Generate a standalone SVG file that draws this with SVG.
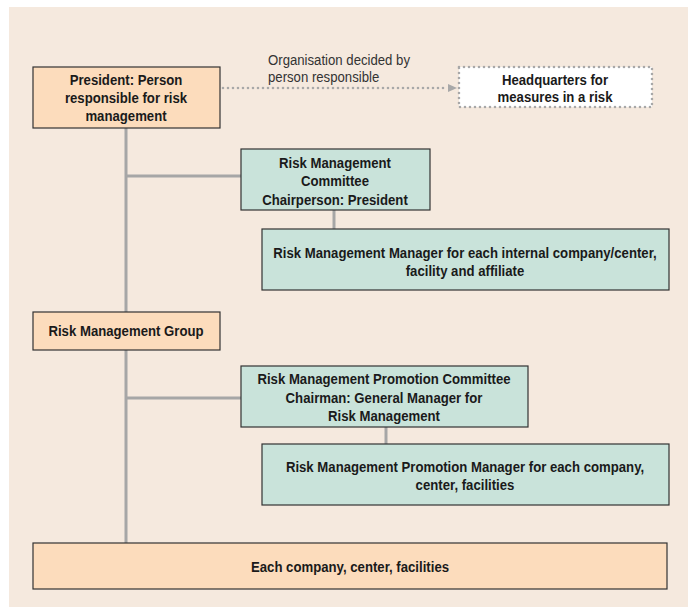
<svg xmlns="http://www.w3.org/2000/svg" width="688" height="608" viewBox="0 0 688 608">
<style>
.t{font-family:"Liberation Sans",Arial,sans-serif;font-size:15.5px;font-weight:bold;fill:#1a1a1a;text-anchor:middle}
.l{font-family:"Liberation Sans",Arial,sans-serif;font-size:15.5px;fill:#333}
.peach{fill:#fcdcbc;stroke:#333;stroke-width:1.2}
.mint{fill:#c9e3da;stroke:#333;stroke-width:1.2}
.conn{stroke:#a6a6a6;stroke-width:3;fill:none}
.dot{stroke:#a8a8a8;stroke-width:2.6;stroke-linecap:round;stroke-dasharray:0 5;fill:none}
</style>
<rect x="0" y="0" width="688" height="608" fill="#ffffff"/>
<rect x="9" y="7" width="679" height="600" fill="#f5e9de"/>
<g id="connectors">
<line class="conn" x1="126" y1="128" x2="126" y2="543"/>
<line class="conn" x1="126" y1="176" x2="241" y2="176"/>
<line class="conn" x1="334" y1="210" x2="334" y2="229"/>
<line class="conn" x1="126" y1="398" x2="241" y2="398"/>
<line class="conn" x1="386" y1="427" x2="386" y2="444"/>
<line class="dot" x1="223" y1="88" x2="448" y2="88"/>
<path d="M448,84 L457,88 L448,92 Z" fill="#a8a8a8"/>
</g>
<g id="label" transform="translate(268 0) scale(0.85 1)">
<text class="l" x="0" y="65">Organisation decided by</text>
<text class="l" x="0" y="82">person responsible</text>
</g>
<g id="president">
<rect class="peach" x="33" y="67" width="187" height="61"/>
<g transform="translate(126 0) scale(0.85 1)">
<text class="t" x="0" y="85">President: Person</text>
<text class="t" x="0" y="103">responsible for risk</text>
<text class="t" x="0" y="121">management</text>
</g>
</g>
<g id="headquarters">
<rect x="459" y="67" width="193" height="40" fill="#ffffff" stroke="#a8a8a8" stroke-width="2.6" stroke-linecap="round" stroke-dasharray="0 5"/>
<g transform="translate(555 0) scale(0.85 1)">
<text class="t" x="0" y="85">Headquarters for</text>
<text class="t" x="0" y="102">measures in a risk</text>
</g>
</g>
<g id="rmc">
<rect class="mint" x="241" y="149" width="189" height="61"/>
<g transform="translate(335 0) scale(0.85 1)">
<text class="t" x="0" y="168">Risk Management</text>
<text class="t" x="0" y="186">Committee</text>
<text class="t" x="0" y="205">Chairperson: President</text>
</g>
</g>
<g id="rmm">
<rect class="mint" x="262" y="229" width="407" height="61"/>
<g transform="translate(465 0) scale(0.85 1)">
<text class="t" x="0" y="258">Risk Management Manager for each internal company/center,</text>
<text class="t" x="0" y="276">facility and affiliate</text>
</g>
</g>
<g id="rmg">
<rect class="peach" x="33" y="312" width="187" height="38"/>
<g transform="translate(126 0) scale(0.85 1)">
<text class="t" x="0" y="336">Risk Management Group</text>
</g>
</g>
<g id="rmpc">
<rect class="mint" x="241" y="366" width="287" height="61"/>
<g transform="translate(384 0) scale(0.85 1)">
<text class="t" x="0" y="384">Risk Management Promotion Committee</text>
<text class="t" x="0" y="403">Chairman: General Manager for</text>
<text class="t" x="0" y="421">Risk Management</text>
</g>
</g>
<g id="rmpm">
<rect class="mint" x="262" y="444" width="407" height="61"/>
<g transform="translate(465 0) scale(0.85 1)">
<text class="t" x="0" y="472">Risk Management Promotion Manager for each company,</text>
<text class="t" x="0" y="490">center, facilities</text>
</g>
</g>
<g id="each">
<rect class="peach" x="33" y="543" width="634" height="46"/>
<g transform="translate(350 0) scale(0.85 1)">
<text class="t" x="0" y="572">Each company, center, facilities</text>
</g>
</g>
</svg>
